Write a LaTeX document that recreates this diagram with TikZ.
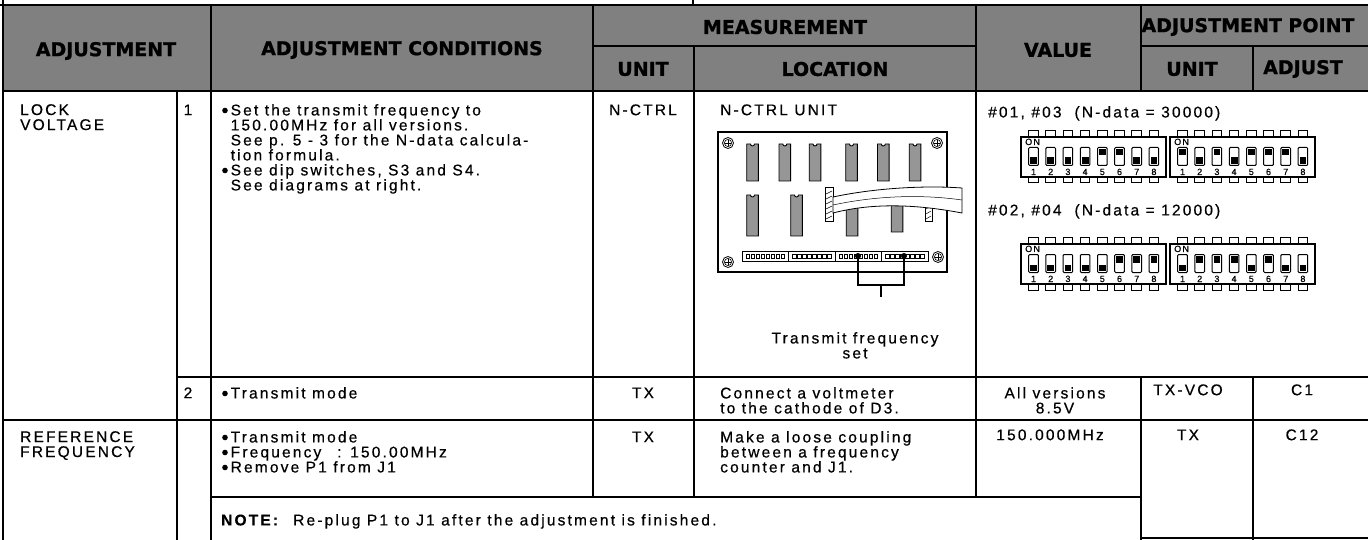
\documentclass[tikz,border=0pt]{standalone}
\usepackage{fontspec}
\setmainfont{Liberation Sans}
\newfontfamily\bodyfont[LetterSpace=14,FakeBold=0.5]{Liberation Sans}
\newfontfamily\hdrfont[BoldFeatures={FakeBold=1}]{DejaVu Sans}
\definecolor{hdrgray}{RGB}{128,128,128}
\definecolor{chipgray}{RGB}{150,150,150}
\newcommand\fl{\rule{0pt}{11pt}}
\newcommand\bul{\hspace*{9.5pt}}
\newcommand\ind{\hspace*{9.5pt}}
\tikzset{
  rule/.style={line width=1.4pt, black},
  hdrtext/.style={font=\hdrfont\bfseries\fontsize{19}{19}\selectfont, inner sep=0pt, text=black},
  cell/.style={font=\bodyfont\fontsize{15.5}{15}\selectfont, inner sep=0pt, anchor=north west, yshift=11pt, align=left, execute at begin node=\fl},
  ccell/.style={cell, anchor=north, align=center},
  bulletdot/.style={fill=black},
  chip/.style={draw=black, line width=0.9pt, fill=chipgray},
  board/.style={draw=black, line width=1.5pt},
  pcbline/.style={draw=black, line width=0.8pt},
  diptext/.style={font=\bodyfont\fontsize{9}{9}\selectfont, inner sep=0pt},
}
\newcommand\dipsw[4]{%
\begin{scope}[shift={(#1,#2)}]
 \draw[line width=1.2pt] (0,0) rectangle (145,40);
 \foreach \b [count=\i from 0] in {#3} {
   \pgfmathsetmacro\cx{12.5+17.2*\i}
   \draw[line width=1pt] (\cx-4.8,0) -- (\cx-4.8,-6) -- (\cx+4.8,-6) -- (\cx+4.8,0);
   \draw[line width=1pt] (\cx-4.8,40) -- (\cx-4.8,46) -- (\cx+4.8,46) -- (\cx+4.8,40);
   \draw[line width=1pt, rounded corners=1pt] (\cx-4.8,10.5) rectangle (\cx+4.8,28.5);
   \fill (\cx-3.4,{12+8.5*(1-\b)}) rectangle ++(6.8,6.5);
   \node[diptext, anchor=base] (#4n\i) at (\cx,38) {\the\numexpr\i+1\relax};
 }
 \node[diptext, anchor=north west] (#4on) at (4,1.5) {ON};
\end{scope}}
\begin{document}
\begin{tikzpicture}[x=1pt,y=-1pt]
\useasboundingbox (0,0) rectangle (1368,540);
% header background
\fill[hdrgray] (3,5) rectangle (1368,91);
% grid
\draw[rule] (3,0) -- (3,540);
\draw[rule] (0,5) -- (1368,5);
\draw[rule] (693,0) -- (693,5);
\draw[rule] (211,5) -- (211,540);
\draw[rule] (177,91) -- (177,540);
\draw[rule] (593,5) -- (593,497);
\draw[rule] (694,46) -- (694,497);
\draw[rule] (976,5) -- (976,497);
\draw[rule] (1141,5) -- (1141,91);
\draw[rule] (1141,377) -- (1141,540);
\draw[rule] (1253,46) -- (1253,91);
\draw[rule] (1253,377) -- (1253,540);
\draw[rule] (593,46) -- (976,46);
\draw[rule] (1141,46) -- (1368,46);
\draw[rule] (3,91) -- (1368,91);
\draw[rule] (177,377) -- (1368,377);
\draw[rule] (3,420) -- (1368,420);
\draw[rule] (211,497) -- (1141,497);
\draw[rule] (1141,538) -- (1368,538);
% header text
\node[hdrtext] (hAdj) at (106,51) {ADJUSTMENT};
\node[hdrtext] (hCond) at (402,50) {ADJUSTMENT CONDITIONS};
\node[hdrtext] (hMeas) at (785,27) {MEASUREMENT};
\node[hdrtext] (hMU) at (643,69) {UNIT};
\node[hdrtext] (hLoc) at (835,69) {LOCATION};
\node[hdrtext] (hVal) at (1058,50) {VALUE};
\node[hdrtext] (hAP) at (1248,27) {ADJUSTMENT POINT};
\node[hdrtext] (hAU) at (1192,69) {UNIT};
\node[hdrtext] (hAA) at (1303,69) {ADJUST};
% row 1
\node[cell] (lock) at (20,115) {LOCK\\VOLTAGE};
\node[ccell] (n1) at (188,115) {1};
\node[cell] (c1) at (221,115) {\bul Set the transmit frequency to\\\ind 150.00MHz for all versions.\\\ind See p. 5 - 3 for the N-data calcula-\\\ind tion formula.\\\bul See dip switches, S3 and S4.\\\ind See diagrams at right.};
\fill[bulletdot] (225,110.5) circle (2.8);
\fill[bulletdot] (225,170.5) circle (2.8);
\node[ccell] (u1) at (643,115) {N-CTRL};
\node[cell] (loc1) at (720,115) {N-CTRL UNIT};
\node[cell] (v1a) at (988,117) {\#01, \#03\ \ (N-data = 30000)};
\node[cell] (v1b) at (988,215) {\#02, \#04\ \ (N-data = 12000)};
% PCB
\draw[board, fill=white] (718,132) rectangle (947,272);
\foreach \sx/\sy in {728/143, 937/143, 728/262, 938/257} {
  \draw[line width=0.8pt] (\sx,\sy) circle (5.5);
  \draw[line width=0.6pt] (\sx,\sy) circle (3.6);
  \draw[line width=0.6pt] (\sx-2.6,\sy) -- (\sx+2.6,\sy) (\sx,\sy-2.6) -- (\sx,\sy+2.6);
}
\foreach \cx in {752.5,784.8,815,851.5,883.3,915} {
  \draw[chip] (\cx-5.8,144) -- (\cx-2,144) arc (180:0:2) -- (\cx+5.8,144) -- (\cx+5.8,181) -- (\cx-5.8,181) -- cycle;
}
\foreach \cx/\ct/\cb in {752.5/195/236, 796.5/195/236, 852/200/236, 897/200/232} {
  \draw[chip] (\cx-5.8,\ct) -- (\cx-2,\ct) arc (180:0:2) -- (\cx+5.8,\ct) -- (\cx+5.8,\cb) -- (\cx-5.8,\cb) -- cycle;
}
\draw[pcbline, fill=white] (825,187) rectangle (833,221);
\foreach \hy in {191,196,...,216} { \draw[line width=0.5pt] (826,\hy+3) -- (832,\hy); }
\draw[pcbline, fill=white] (925,187) rectangle (932,221);
\foreach \hy in {191,196,...,216} { \draw[line width=0.5pt] (926,\hy+3) -- (931,\hy); }
\draw[pcbline, fill=white] (833,197) .. controls (870,189) and (920,185) .. (962,188) -- (962,213) .. controls (920,205) and (875,202) .. (833,213) -- cycle;
\draw[line width=0.5pt] (833,205) .. controls (875,196) and (920,194) .. (962,200);
\foreach \g in {0,1,2,3} {
  \draw[pcbline] ({742+46.5*\g},251) rectangle ++(46.5,10);
  \foreach \s in {0,...,7} { \draw[line width=0.4pt] ({742+46.5*\g+4+\s*5},254) rectangle ++(3.5,4); }
}
\coordinate (dA) at (858,256);
\coordinate (dB) at (904,256);
\coordinate (bA) at (858,285);
\coordinate (bB) at (904,285);
\coordinate (bC) at (881,285);
\coordinate (bD) at (881,297);
\fill (dA) circle (3);
\fill (dB) circle (3);
\draw[line width=1.2pt] (dA) -- (bA) -- (bB) -- (dB);
\draw[line width=1.2pt] (bC) -- (bD);
\node[ccell] (tfs) at (855,343) {Transmit frequency\\set};
% DIP switches
\dipsw{1021}{137}{0,0,0,0,1,1,0,0}{da}
\dipsw{1170}{137}{1,0,1,0,1,1,1,0}{db}
\dipsw{1021}{244}{0,0,0,0,0,1,1,1}{dc}
\dipsw{1170}{244}{0,1,1,1,0,1,0,0}{dd}
% row 2
\node[ccell] (n2) at (188,398) {2};
\node[cell] (c2) at (221,398) {\bul Transmit mode};
\fill[bulletdot] (225,393.5) circle (2.8);
\node[ccell] (u2) at (643,398) {TX};
\node[cell] (loc2) at (720,398) {Connect a voltmeter\\to the cathode of D3.};
\node[ccell] (v2) at (1055,398) {All versions\\8.5V};
\node[ccell] (au2) at (1188,395) {TX-VCO};
\node[ccell] (aa2) at (1302,395) {C1};
% row 3
\node[cell] (ref) at (20,442) {REFERENCE\\FREQUENCY};
\node[cell] (c3) at (221,442) {\bul Transmit mode\\\bul Frequency\hspace{16pt}: 150.00MHz\\\bul Remove P1 from J1};
\fill[bulletdot] (225,437.5) circle (2.8);
\fill[bulletdot] (225,452.5) circle (2.8);
\fill[bulletdot] (225,467.5) circle (2.8);
\node[ccell] (u3) at (643,442) {TX};
\node[cell] (loc3) at (720,442) {Make a loose coupling\\between a frequency\\counter and J1.};
\node[ccell] (v3) at (1050,440) {150.000MHz};
\node[ccell] (au3) at (1188,440) {TX};
\node[ccell] (aa3) at (1302,440) {C12};
\node[cell] (note) at (221,525) {\textbf{NOTE:}\ \ Re-plug P1 to J1 after the adjustment is finished.};
\end{tikzpicture}
\end{document}
